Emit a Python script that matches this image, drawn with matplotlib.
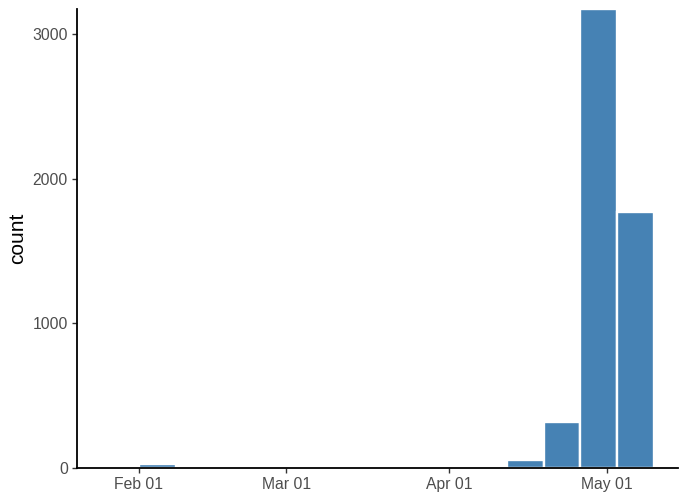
import datetime as dt

import matplotlib
matplotlib.use("Agg")
import matplotlib.pyplot as plt
import matplotlib.dates as mdates

# weekly bin starts and counts
week_starts = [
    "2021-01-25", "2021-02-01", "2021-02-08", "2021-02-15", "2021-02-22",
    "2021-03-01", "2021-03-08", "2021-03-15", "2021-03-22", "2021-03-29",
    "2021-04-05", "2021-04-12", "2021-04-19", "2021-04-26", "2021-05-03",
]
counts = [5, 30, 0, 0, 0, 0, 0, 0, 0, 0, 0, 58, 318, 3172, 1769]

tick_dates = ["2021-02-01", "2021-03-01", "2021-04-01", "2021-05-01"]
y_ticks = [0, 1000, 2000, 3000]

plt.rcParams["font.family"] = ["Liberation Sans", "DejaVu Sans"]

starts = [dt.datetime.strptime(s, "%Y-%m-%d") for s in week_starts]
x = mdates.date2num(starts)

fig = plt.figure(figsize=(6.84, 5.04), dpi=100)
ax = fig.add_axes([77 / 684, 1 - 468 / 504, (678 - 77) / 684, (468 - 9) / 504])

ax.bar(x, counts, width=7, align="edge", color="#4682B4",
       edgecolor="white", linewidth=1.7, zorder=2)

lo, hi = x[0], x[-1] + 7
ax.set_xlim(lo - 4.8, hi + 4.6)
ax.set_ylim(0, max(counts))

ax.set_xticks(mdates.date2num([dt.datetime.strptime(s, "%Y-%m-%d") for s in tick_dates]))
ax.xaxis.set_major_formatter(mdates.DateFormatter("%b %d"))
ax.set_yticks(y_ticks)

for side in ("top", "right"):
    ax.spines[side].set_visible(False)
for side in ("left", "bottom"):
    ax.spines[side].set_linewidth(1.3)
    ax.spines[side].set_color("black")
    ax.spines[side].set_zorder(3)

ax.tick_params(axis="both", length=3.5, width=1.0, color="#333333",
               labelcolor="#4D4D4D", labelsize=11.3, pad=3)
ax.set_ylabel("count", fontsize=15, color="black", labelpad=4)

fig.savefig("out.png", dpi=100)
